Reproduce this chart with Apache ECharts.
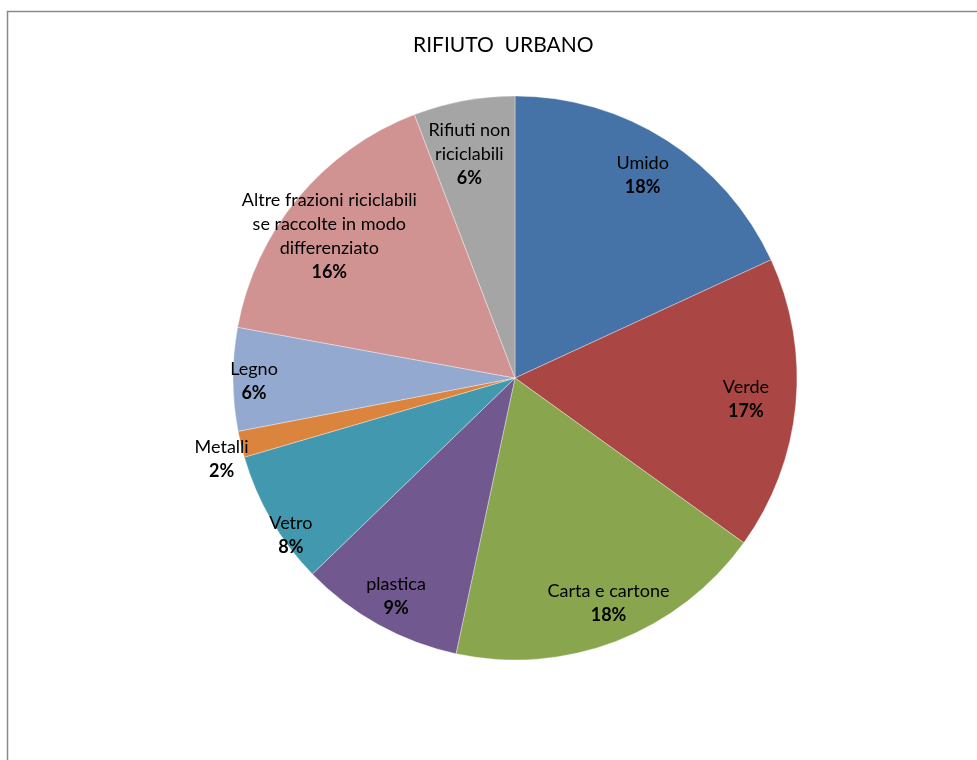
<!DOCTYPE html>
<html>
<head>
<meta charset="utf-8">
<script src="https://cdn.jsdelivr.net/npm/echarts@6/dist/echarts.min.js"></script>
<style>
  html, body { margin: 0; padding: 0; background: #fff; }
  #chart { width: 977px; height: 760px; }
</style>
</head>
<body>
<div id="chart"></div>
<script>
const categories = ['Umido', 'Verde', 'Carta e cartone', 'plastica', 'Vetro', 'Metalli', 'Legno',
  'Altre frazioni riciclabili\nse raccolte in modo\ndifferenziato', 'Rifiuti non\nriciclabili']
const values = [18.1, 16.8, 18.4, 9.4, 7.7, 1.5, 5.9, 16.3, 5.8]
const colors = ['#4572A7', '#AA4643', '#89A54E', '#71588F', '#4198AF', '#DB843D', '#93A9CF', '#D19392', '#A5A5A5']
// label nudges, Excel did not put every label on the same ring
const labelOffsets = [[1, -5], [-3, -1], [9, 6], [-5, 13], [-21, 39], [-65, 26], [-26, 2], [-5, 8], [-3, 7]]

const font = 'Lato, "Open Sans", sans-serif'
const chart = echarts.init(document.getElementById('chart'))

const pieData = categories.map((name, i) => ({
  name, value: values[i], itemStyle: { color: colors[i] }
}))

const labelData = categories.map((name, i) => ({
  name, value: values[i],
  label: { offset: labelOffsets[i] }
}))

chart.setOption({
  animation: false,
  title: {
    text: 'RIFIUTO  URBANO',
    left: 408,
    top: 30,
    textStyle: { fontFamily: font, fontSize: 21, fontWeight: 'normal', color: '#000' }
  },
  graphic: [{
    type: 'rect',
    shape: { x: 7.5, y: 11.5, width: 1000, height: 800 },
    style: { fill: 'none', stroke: '#8a8a8a', lineWidth: 1.5 },
    silent: true
  }],
  series: [
    {
      type: 'pie',
      center: [515, 378],
      radius: 282,
      startAngle: 90,
      clockwise: true,
      data: pieData,
      label: { show: false },
      labelLine: { show: false },
      itemStyle: { borderColor: 'rgba(255,255,255,0.7)', borderWidth: 0.5 },
      silent: true
    },
    {
      // transparent ring that only carries the data labels
      type: 'pie',
      center: [515, 378],
      radius: [182, 282],
      startAngle: 90,
      clockwise: true,
      data: labelData,
      itemStyle: { color: 'rgba(0,0,0,0)' },
      silent: true,
      label: {
        show: true,
        position: 'inside',
        formatter: p => p.name + '\n{b|' + Math.round(p.percent) + '%}',
        fontFamily: font,
        fontSize: 18,
        lineHeight: 24,
        color: '#000',
        align: 'center',
        rich: { b: { fontFamily: font, fontSize: 18, fontWeight: 'bold', lineHeight: 24, color: '#000' } }
      },
      labelLine: { show: false }
    }
  ]
})
</script>
</body>
</html>
